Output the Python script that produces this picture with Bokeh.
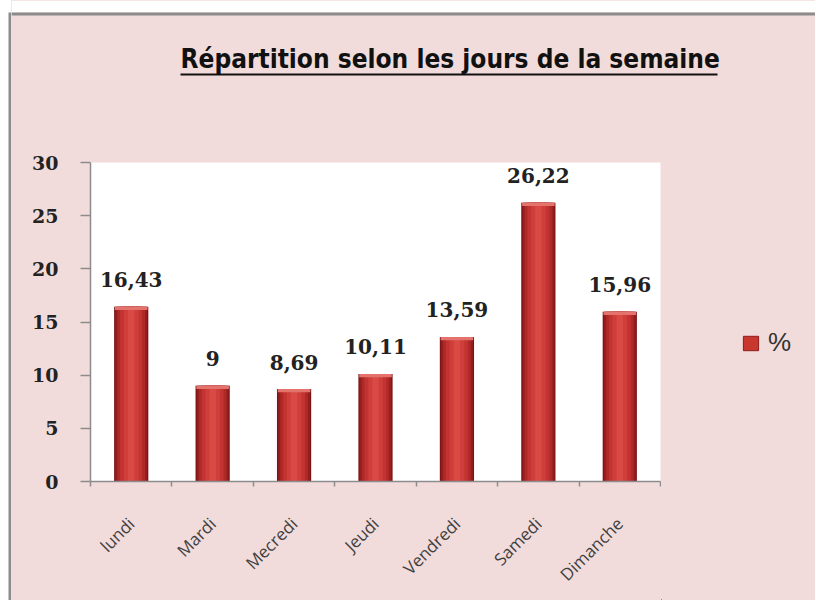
from bokeh.plotting import figure
from bokeh.models import (Range1d, FixedTicker, Label, BoxAnnotation, Legend, LegendItem,
                          ColumnDataSource)
from bokeh.layouts import row, column
from bokeh.embed import file_html
from bokeh.resources import INLINE
from bokeh.core.properties import value
import math

# ---- data ----
days = ["lundi", "Mardi", "Mecredi", "Jeudi", "Vendredi", "Samedi", "Dimanche"]
percent = [16.43, 9, 8.69, 10.11, 13.59, 26.22, 15.96]
y_ticks = [0, 5, 10, 15, 20, 25, 30]
title_text = "Répartition selon les jours de la semaine"
series_name = "%"

positions = list(range(1, len(days) + 1))
labels = [("%g" % v).replace(".", ",") for v in percent]
src = ColumnDataSource(dict(x=positions, top=percent, label=labels))

PINK = "#F2DCDB"
GRAY = "#8C8C8C"
TOTAL_W, TOTAL_H = 815, 600
STRIP_W = 11
CW = TOTAL_W - STRIP_W          # content width (804)
T = 90                          # title band height
H = TOTAL_H - T                 # main chart height (510)
PW = 650                        # main chart width
LW = CW - PW                    # legend panel width


def blank(width, height, bg):
    f = figure(width=width, height=height, output_backend="svg", toolbar_location=None,
               x_range=Range1d(0, width), y_range=Range1d(0, height),
               x_axis_location=None, y_axis_location=None,
               min_border=0, min_border_left=0, min_border_right=0,
               min_border_top=0, min_border_bottom=0, frame_align=False)
    f.xgrid.visible = False
    f.ygrid.visible = False
    f.outline_line_color = None
    f.background_fill_color = bg
    f.border_fill_color = bg
    return f


# ---- left strip: page margin + chart border ----
strip = blank(STRIP_W, TOTAL_H, "white")
strip.add_layout(BoxAnnotation(left=8, right=11, bottom=0, top=TOTAL_H - 12,
                               fill_color=GRAY, fill_alpha=1, line_color=None))

# ---- title band ----
top = blank(CW, T, PINK)
top.add_layout(BoxAnnotation(left=0, right=CW, bottom=T - 12, top=T,
                             fill_color="white", fill_alpha=1, line_color=None))
top.add_layout(BoxAnnotation(left=0, right=CW, bottom=T - 15, top=T - 12,
                             fill_color=GRAY, fill_alpha=1, line_color=None))
top.add_layout(Label(x=169, y=T - 58, text=title_text,
                     text_font="'DejaVu Sans Condensed', 'Liberation Sans Narrow', sans-serif",
                     text_font_style="bold",
                     text_font_size="26px", text_color="#111111",
                     text_baseline="alphabetic"))
top.add_layout(BoxAnnotation(left=169, right=706, bottom=T - 75, top=T - 73,
                             fill_color="#111111", fill_alpha=1, line_color=None))

# ---- main chart ----
ML, MR, MT, MB = 79, 1, 72, 119

p = figure(width=PW, height=H, output_backend="svg", toolbar_location=None,
           x_range=Range1d(0.5, len(days) + 0.5), y_range=Range1d(0, 30),
           min_border_left=ML, min_border_right=MR, min_border_top=MT, min_border_bottom=MB,
           frame_align=False)
p.border_fill_color = PINK
p.background_fill_color = "white"
p.outline_line_color = None
p.xgrid.visible = False
p.ygrid.visible = False

# y axis
ya = p.yaxis[0]
ya.ticker = FixedTicker(ticks=y_ticks)
ya.axis_line_color = GRAY
ya.axis_line_width = 1.5
ya.major_tick_line_color = GRAY
ya.major_tick_line_width = 1.5
ya.major_tick_out = 10
ya.major_tick_in = 0
ya.minor_tick_line_color = None
ya.major_label_standoff = 22
ya.major_label_text_font = "DejaVu Serif"
ya.major_label_text_font_style = "bold"
ya.major_label_text_font_size = "19px"
ya.major_label_text_color = "#222222"

# x axis
xa = p.xaxis[0]
xa.ticker = FixedTicker(ticks=positions, minor_ticks=[i + 0.5 for i in range(len(days) + 1)])
xa.major_label_overrides = {pos: d for pos, d in zip(positions, days)}
xa.axis_line_color = GRAY
xa.axis_line_width = 1.5
xa.major_tick_line_color = None
xa.major_tick_out = 0
xa.major_tick_in = 0
xa.minor_tick_line_color = GRAY
xa.minor_tick_line_width = 1.5
xa.minor_tick_out = 5
xa.minor_tick_in = 0
xa.major_label_orientation = math.pi / 4
xa.major_label_standoff = 34
xa.major_label_text_font = "Open Sans"
xa.major_label_text_font_size = "17px"
xa.major_label_text_color = "#404040"

# bars: layered to mimic a cylinder gradient
layers = [(0.42, "#7A1414"), (0.39, "#961E1E"), (0.34, "#AE2927"),
          (0.27, "#C23431"), (0.18, "#CF3E3A"), (0.08, "#D84A43")]
for w, c in layers:
    p.vbar(x="x", top="top", bottom=0, width=w, source=src, fill_color=c, line_color=None)
# lighter top cap
p.vbar(x=positions, top=percent, bottom=[v - 0.3 for v in percent], width=0.40,
       fill_color="#E3736C", line_color=None)

# value labels
p.text(x="x", y="top", text="label", source=src, text_align="center",
       text_baseline="alphabetic", y_offset=-27,
       text_font=value("DejaVu Serif"), text_font_style="bold",
       text_font_size="20px", text_color="#222222")

# ---- legend panel ----
leg = blank(LW, H, PINK)
legend_r = leg.vbar(x=[-100], top=[1], width=1, fill_color="#C8382F", line_color="#8E1B1B")
legend = Legend(items=[LegendItem(label=series_name, renderers=[legend_r])],
                location=(80, 242), orientation="vertical",
                background_fill_alpha=0, border_line_color=None,
                padding=0, margin=0, glyph_width=19, glyph_height=18,
                label_standoff=8, label_text_font="Liberation Sans",
                label_text_font_size="26px", label_text_color="#333333")
leg.add_layout(legend, "center")

body = column(top, row(p, leg, styles={"background-color": PINK}),
              styles={"background-color": PINK})
layout = row(strip, body)
open("out.html", "w").write(file_html(layout, INLINE))
